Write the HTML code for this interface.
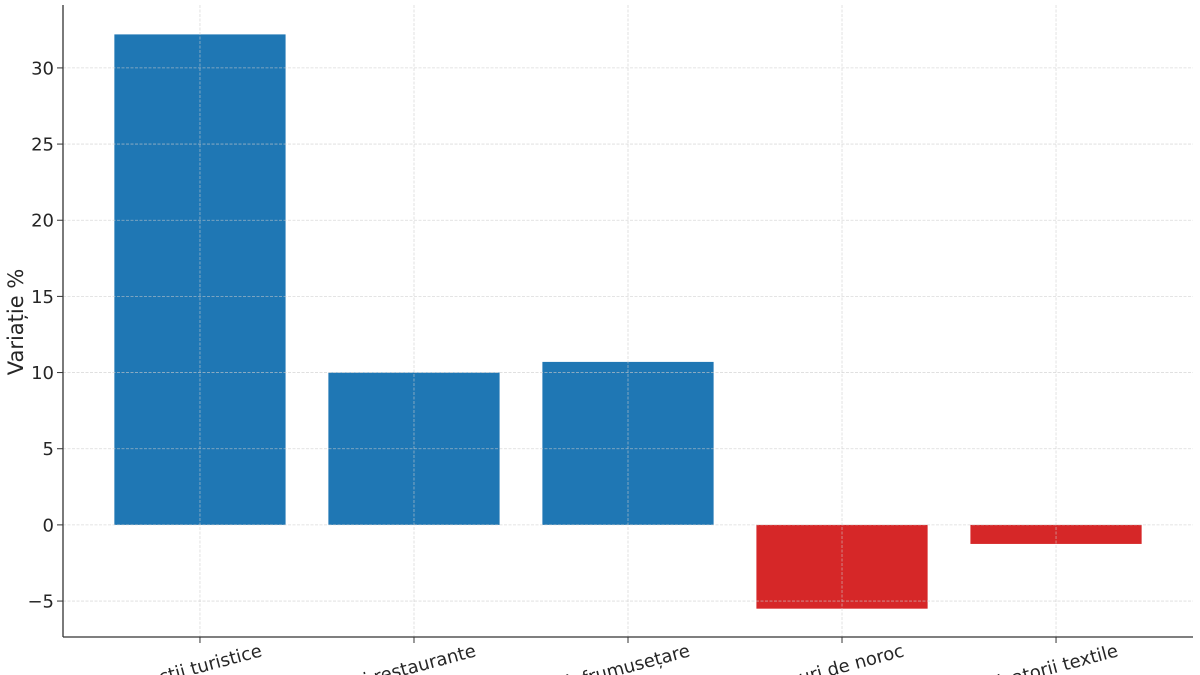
<!DOCTYPE html>
<html><head><meta charset="utf-8"><style>
html,body{margin:0;padding:0;background:#fff;width:1200px;height:675px;overflow:hidden}
svg{display:block}
svg text{font-family:"DejaVu Sans","Liberation Sans",sans-serif;fill:#262626}
</style></head><body>
<svg id="chart" width="1200" height="675" viewBox="0 0 1200 675" overflow="hidden" xmlns="http://www.w3.org/2000/svg"></svg>
<script>
const categories = ["Atracții turistice","Baruri și restaurante","Saloane de înfrumusețare","Jocuri de noroc","Fabricatorii textile"];
const values = [32.2, 10.0, 10.7, -5.5, -1.25];
const yTicks = [-5, 0, 5, 10, 15, 20, 25, 30];
const yTickLabels = ["−5","0","5","10","15","20","25","30"];

const svg = document.getElementById('chart');
const NS = "http://www.w3.org/2000/svg";
const L = 63, R = 1193, T = 5, B = 637;
const yMin = -7.36, yMax = 34.13;
const xMin = -0.64, xMax = 4.64;
function y(v){ return B - (v - yMin) / (yMax - yMin) * (B - T); }
function x(i){ return L + (i - xMin) / (xMax - xMin) * (R - L); }
function mk(tag, attrs){ const e = document.createElementNS(NS, tag); for (const k in attrs) e.setAttribute(k, attrs[k]); svg.appendChild(e); return e; }

values.forEach((v, i) => {
  const w = 0.8 * (x(1) - x(0));
  const top = y(Math.max(v, 0)), bot = y(Math.min(v, 0));
  const r = mk('rect', {x: x(i) - w/2, y: top, width: w, height: bot - top, fill: v >= 0 ? '#1f77b4' : '#d62728'});
  
  
});
yTicks.forEach((t, i) => {
  const g = mk('line', {x1: L, x2: R, y1: y(t), y2: y(t), stroke: '#cccccc', 'stroke-width': 0.8, 'stroke-dasharray': '3,1.5', opacity: 0.7});
  
  
  const tk = mk('line', {x1: L - 6, x2: L, y1: y(t), y2: y(t), stroke: '#333', 'stroke-width': 1});
  
  
  const tx = mk('text', {x: L - 9, y: y(t) + 6.5, 'text-anchor': 'end', 'font-size': 18});
  tx.textContent = yTickLabels[i];
  
  
});
categories.forEach((c, i) => {
  const g = mk('line', {x1: x(i), x2: x(i), y1: T, y2: B, stroke: '#cccccc', 'stroke-width': 0.8, 'stroke-dasharray': '3,1.5', opacity: 0.7});
  
  
  const tk = mk('line', {x1: x(i), x2: x(i), y1: B, y2: B + 6, stroke: '#333', 'stroke-width': 1});
  
  
  const ex = x(i) + 63, ey = 656;
  const tx = mk('text', {x: ex, y: ey, 'text-anchor': 'end', 'font-size': 18, transform: 'rotate(-15 ' + ex + ' ' + ey + ')'});
  tx.textContent = c;
  
  
});
const ls = mk('line', {x1: L, x2: L, y1: T, y2: B, stroke: '#333', 'stroke-width': 1.3});


const bs = mk('line', {x1: L, x2: R, y1: B, y2: B, stroke: '#333', 'stroke-width': 1.3});


const yl = mk('text', {x: 23, y: 322, 'text-anchor': 'middle', 'font-size': 21, transform: 'rotate(-90 23 322)'});
yl.textContent = 'Variație %';


</script>
</body></html>
